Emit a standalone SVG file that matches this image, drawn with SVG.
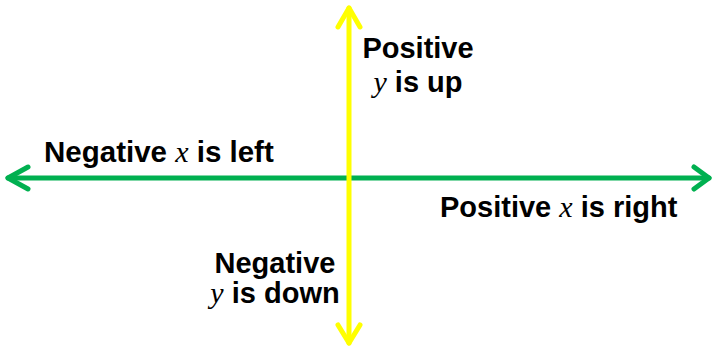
<svg xmlns="http://www.w3.org/2000/svg" width="713" height="347" viewBox="0 0 713 347">
<style>
.lbl{font-family:"Liberation Sans",Arial,sans-serif;font-weight:bold;font-size:29px;fill:#000}
.v{font-family:"Liberation Serif","Times New Roman",serif;font-style:italic;font-weight:normal;font-size:30px}
.g{stroke:#00b050;stroke-width:5;fill:none;stroke-linecap:round;stroke-linejoin:round}
.y{stroke:#ffff00;stroke-width:5;fill:none;stroke-linecap:round;stroke-linejoin:round}
</style>
<rect width="713" height="347" fill="#fff"/>
<g id="connectors">
<g id="x-axis">
<line class="g" x1="8" y1="178" x2="709" y2="178"/>
<polyline class="g" points="28,167 8,178 28,189"/>
<polyline class="g" points="694,167 709,178 694,189"/>
</g>
<g id="y-axis">
<line class="y" x1="349" y1="8" x2="349" y2="343"/>
<polyline class="y" points="338,27 349,8 360,27"/>
<polyline class="y" points="338,325 349,343 360,325"/>
</g>
</g>
<g id="neg-x"><text class="lbl" x="44" y="162" style="font-size:29.5px">Negative <tspan class="v">x</tspan> is left</text></g>
<g id="pos-x"><text class="lbl" x="440" y="217">Positive <tspan class="v">x</tspan> is right</text></g>
<g id="pos-y"><text class="lbl" text-anchor="middle"><tspan x="418" y="58">Positive</tspan><tspan x="418" y="92"><tspan class="v">y</tspan> is up</tspan></text></g>
<g id="neg-y"><text class="lbl" text-anchor="middle"><tspan x="275" y="273">Negative</tspan><tspan x="275" y="303"><tspan class="v">y</tspan> is down</tspan></text></g>
</svg>
